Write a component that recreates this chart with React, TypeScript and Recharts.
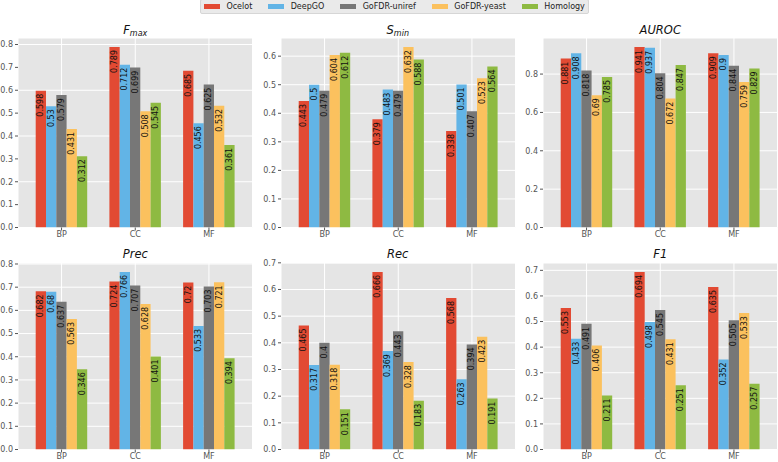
import React from 'react';
import { BarChart, Bar, XAxis, YAxis, CartesianGrid, LabelList } from 'recharts';

const CATEGORIES = ['BP', 'CC', 'MF'];
const SERIES = ['Ocelot', 'DeepGO', 'GoFDR-uniref', 'GoFDR-yeast', 'Homology'];
const COLORS = ['#E24A33', '#62B4E6', '#777777', '#FBC15E', '#8EBA42'];

// one row per series, values in category order BP, CC, MF
const FMAX = [
  [0.598, 0.789, 0.685],
  [0.53, 0.712, 0.456],
  [0.579, 0.699, 0.625],
  [0.431, 0.508, 0.532],
  [0.312, 0.545, 0.361],
];
const SMIN = [
  [0.443, 0.379, 0.338],
  [0.5, 0.483, 0.501],
  [0.479, 0.479, 0.407],
  [0.604, 0.632, 0.523],
  [0.612, 0.588, 0.564],
];
const AUROC = [
  [0.881, 0.941, 0.909],
  [0.908, 0.937, 0.9],
  [0.818, 0.804, 0.844],
  [0.69, 0.672, 0.759],
  [0.785, 0.847, 0.829],
];
const PREC = [
  [0.682, 0.724, 0.72],
  [0.68, 0.766, 0.533],
  [0.637, 0.707, 0.703],
  [0.563, 0.628, 0.721],
  [0.346, 0.401, 0.394],
];
const REC = [
  [0.465, 0.666, 0.568],
  [0.317, 0.369, 0.263],
  [0.4, 0.443, 0.394],
  [0.318, 0.328, 0.423],
  [0.151, 0.183, 0.191],
];
const F1 = [
  [0.553, 0.694, 0.635],
  [0.433, 0.498, 0.352],
  [0.491, 0.545, 0.505],
  [0.406, 0.431, 0.533],
  [0.211, 0.251, 0.257],
];

const TICKS_01 = [0, 0.1, 0.2, 0.3, 0.4, 0.5, 0.6, 0.7, 0.8];
const TICKS_02 = [0, 0.2, 0.4, 0.6, 0.8];

const FONT = '"DejaVu Sans", sans-serif';
const PLOT_W = 234.5;
const AXIS_W = 30;
const COL_X = [18, 280.5, 543];
const ROW_Y = [38, 262.5];
const ROW_H = [189.5, 186.5];

function toRows(values: number[][]) {
  return CATEGORIES.map((cat, ci) => {
    const row: Record<string, any> = { cat };
    SERIES.forEach((_, si) => {
      row['s' + si] = values[si][ci];
    });
    return row;
  });
}

function ValueLabel(props: any) {
  const { x, y, width, value } = props;
  const cx = x + width / 2;
  const ty = y + 3;
  return (
    <text
      x={cx}
      y={ty}
      transform={`rotate(-90, ${cx}, ${ty})`}
      textAnchor="end"
      dominantBaseline="central"
      fontSize={8}
      fontFamily={FONT}
      fill="#111"
    >
      {String(value)}
    </text>
  );
}

type PanelProps = {
  values: number[][];
  ticks: number[];
  col: number;
  row: number;
};

function Panel({ values, ticks, col, row }: PanelProps) {
  const data = toRows(values);
  const yMax = Math.max(...values.flat()) * 1.05;
  const h = ROW_H[row];
  const visibleTicks = ticks.filter((t) => t <= yMax + 0.002);
  return (
    <div style={{ position: 'absolute', left: COL_X[col] - AXIS_W, top: ROW_Y[row] - 10 }}>
      <BarChart
        width={PLOT_W + AXIS_W + 2}
        height={h + 10 + 25}
        data={data}
        margin={{ top: 10, right: 2, left: 0, bottom: 0 }}
        barGap={0}
        barSize={10.3}
      >
        <CartesianGrid fill="#E5E5E5" stroke="#FFFFFF" strokeWidth={1} />
        <XAxis
          dataKey="cat"
          axisLine={false}
          tickSize={3}
          tickMargin={1}
          tickLine={{ stroke: '#555' }}
          tick={{ fill: '#555', fontSize: 8, fontFamily: FONT }}
          padding={{ left: 6.7, right: 6.7 }}
          height={25}
          interval={0}
        />
        <YAxis
          type="number"
          domain={[0, yMax]}
          ticks={visibleTicks}
          tickFormatter={(v: number) => v.toFixed(1)}
          width={AXIS_W}
          axisLine={false}
          tickSize={3}
          tickMargin={2}
          tickLine={{ stroke: '#555' }}
          tick={{ fill: '#555', fontSize: 8, fontFamily: FONT }}
          allowDataOverflow
        />
        {SERIES.map((s, i) => (
          <Bar key={s} dataKey={'s' + i} fill={COLORS[i]} isAnimationActive={false}>
            <LabelList dataKey={'s' + i} content={ValueLabel} />
          </Bar>
        ))}
      </BarChart>
    </div>
  );
}

function Title({ col, row, main, sub }: { col: number; row: number; main: string; sub?: string }) {
  const cx = COL_X[col] + PLOT_W / 2;
  const y = ROW_Y[row] - 4.5;
  return (
    <text x={cx} y={y} textAnchor="middle" fontSize={11.5} fontStyle="italic" fontFamily={FONT} fill="#111">
      {main}
      {sub && (
        <tspan fontSize={8} dy={2.5}>
          {sub}
        </tspan>
      )}
    </text>
  );
}

function Legend() {
  return (
    <div
      style={{
        position: 'absolute',
        left: 200,
        top: -1,
        height: 15,
        boxSizing: 'border-box',
        display: 'flex',
        alignItems: 'center',
        padding: '0 3px',
        background: '#EAEAEA',
        border: '1px solid #D6D6D6',
        borderRadius: 2,
        fontFamily: FONT,
        fontSize: 8,
        color: '#222',
        whiteSpace: 'nowrap',
      }}
    >
      {SERIES.map((s, i) => (
        <div key={s} style={{ display: 'flex', alignItems: 'center', marginLeft: i === 0 ? 0 : 16 }}>
          <div style={{ width: 16, height: 5.5, background: COLORS[i], marginRight: 6.4 }} />
          <span>{s}</span>
        </div>
      ))}
    </div>
  );
}

export default function App() {
  return (
    <div
      style={{
        position: 'absolute',
        left: 0,
        top: 0,
        width: 778,
        height: 462,
        background: '#fff',
        overflow: 'hidden',
        fontFamily: FONT,
      }}
    >
      <Panel values={FMAX} ticks={TICKS_01} col={0} row={0} />
      <Panel values={SMIN} ticks={TICKS_01} col={1} row={0} />
      <Panel values={AUROC} ticks={TICKS_02} col={2} row={0} />
      <Panel values={PREC} ticks={TICKS_01} col={0} row={1} />
      <Panel values={REC} ticks={TICKS_01} col={1} row={1} />
      <Panel values={F1} ticks={TICKS_01} col={2} row={1} />
      <svg width={778} height={462} style={{ position: 'absolute', left: 0, top: 0, pointerEvents: 'none' }}>
        <Title col={0} row={0} main="F" sub="max" />
        <Title col={1} row={0} main="S" sub="min" />
        <Title col={2} row={0} main="AUROC" />
        <Title col={0} row={1} main="Prec" />
        <Title col={1} row={1} main="Rec" />
        <Title col={2} row={1} main="F1" />
      </svg>
      <Legend />
    </div>
  );
}
